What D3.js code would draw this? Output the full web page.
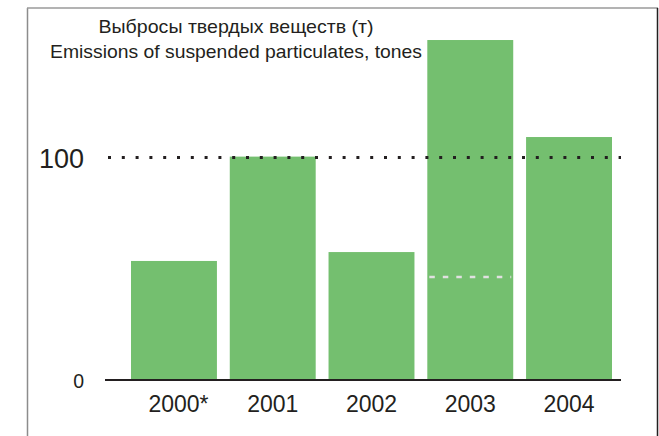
<!DOCTYPE html>
<html>
<head>
    <meta charset="utf-8">
    <title>Emissions of suspended particulates</title>
    <style>
        body { margin: 0; background: #fff; }
        .title { font-family: "Liberation Sans Narrow", "Liberation Sans", Arial, sans-serif; font-size: 19px; fill: #231f20; }
        .axis text { font-family: "Liberation Sans", Arial, sans-serif; fill: #231f20; }
        .bar { fill: #74bf6f; }
    </style>
    <script src="https://d3js.org/d3.v7.min.js"></script>
</head>
<body>
    <div id="chart"></div>
    <script>
        // data
        const years = ["2000", "2001", "2002", "2003", "2004"];
        const emissions = [53.5, 100.4, 57.5, 152.8, 109.2];
        const yTicks = [0, 100];
        const notes = {"2000": "*"};
        const refLevel = 100;          // dotted black line
        const year2003Mark = 46.3;     // light dashed mark inside the 2003 bar
        const titleLines = ["Выбросы твердых веществ (т)", "Emissions of suspended particulates, tones"];

        const width = 659;
        const height = 436;

        const svg = d3.select("#chart").append("svg")
            .attr("width", width)
            .attr("height", height);

        const x = d3.scaleBand()
            .domain(years)
            .range([131, 612])
            .paddingInner(0.13)
            .paddingOuter(0);

        const y = d3.scaleLinear()
            .domain([0, 100])
            .range([380, 157.5]);

        // frame
        svg.append("line")
            .attr("x1", 27.5).attr("x2", 27.5).attr("y1", 8).attr("y2", height)
            .attr("stroke", "#8c8c8c").attr("stroke-width", 1.5);
        svg.append("line")
            .attr("x1", 27).attr("x2", 658).attr("y1", 8).attr("y2", 8)
            .attr("stroke", "#9a9a9a").attr("stroke-width", 1.5);
        svg.append("line")
            .attr("x1", 657.5).attr("x2", 657.5).attr("y1", 8).attr("y2", height)
            .attr("stroke", "#231f20").attr("stroke-width", 1.5);

        // bars
        svg.selectAll(".bar")
            .data(years)
            .enter().append("rect")
            .attr("class", "bar")
            .attr("x", d => x(d))
            .attr("width", x.bandwidth())
            .attr("y", (d, i) => y(emissions[i]))
            .attr("height", (d, i) => y(0) - y(emissions[i]));

        // light dashed mark in 2003
        svg.append("line")
            .attr("x1", x("2003") + 2).attr("x2", x("2003") + x.bandwidth() - 2)
            .attr("y1", y(year2003Mark)).attr("y2", y(year2003Mark))
            .attr("stroke", "#e0e0e0").attr("stroke-width", 2.5)
            .attr("stroke-dasharray", "5.5 8");

        // dotted reference line
        svg.append("line")
            .attr("x1", 108).attr("x2", 621)
            .attr("y1", y(refLevel)).attr("y2", y(refLevel))
            .attr("stroke", "#231f20").attr("stroke-width", 3)
            .attr("stroke-dasharray", "3 10.8");

        // baseline
        svg.append("line")
            .attr("x1", 105).attr("x2", 621)
            .attr("y1", y(0)).attr("y2", y(0))
            .attr("stroke", "#231f20").attr("stroke-width", 2);

        // x axis labels
        const xAxis = svg.append("g")
            .attr("class", "axis")
            .attr("transform", `translate(0,${y(0)})`)
            .call(d3.axisBottom(x).tickSize(0));
        xAxis.select(".domain").remove();
        xAxis.selectAll("text")
            .attr("y", 31.5).attr("dy", 0)
            .style("font-size", "23px");
        xAxis.selectAll(".tick").filter(d => notes[d])
            .select("text")
            .each(function(d) {
                const w = this.getComputedTextLength();
                d3.select(this.parentNode).append("text")
                    .attr("x", w / 2).attr("y", 31.5)
                    .attr("fill", "#231f20")
                    .style("font-size", "23px")
                    .style("text-anchor", "start")
                    .text(notes[d]);
            });

        // y axis labels
        const yAxis = svg.append("g")
            .attr("class", "axis")
            .attr("transform", "translate(84,0)")
            .call(d3.axisLeft(y).tickValues(yTicks).tickSize(0).tickPadding(0));
        yAxis.select(".domain").remove();
        yAxis.selectAll("text")
            .attr("dy", "0.36em")
            .style("font-size", d => d === 0 ? "19.5px" : "27px");

        // title
        const titleWidths = [275, 372];
        svg.selectAll(".title")
            .data(titleLines)
            .enter().append("text")
            .attr("class", "title")
            .attr("x", 236)
            .attr("y", (d, i) => 32.7 + i * 25)
            .attr("text-anchor", "middle")
            .attr("textLength", (d, i) => titleWidths[i])
            .attr("lengthAdjust", "spacingAndGlyphs")
            .text(d => d);
    </script>
</body>
</html>
